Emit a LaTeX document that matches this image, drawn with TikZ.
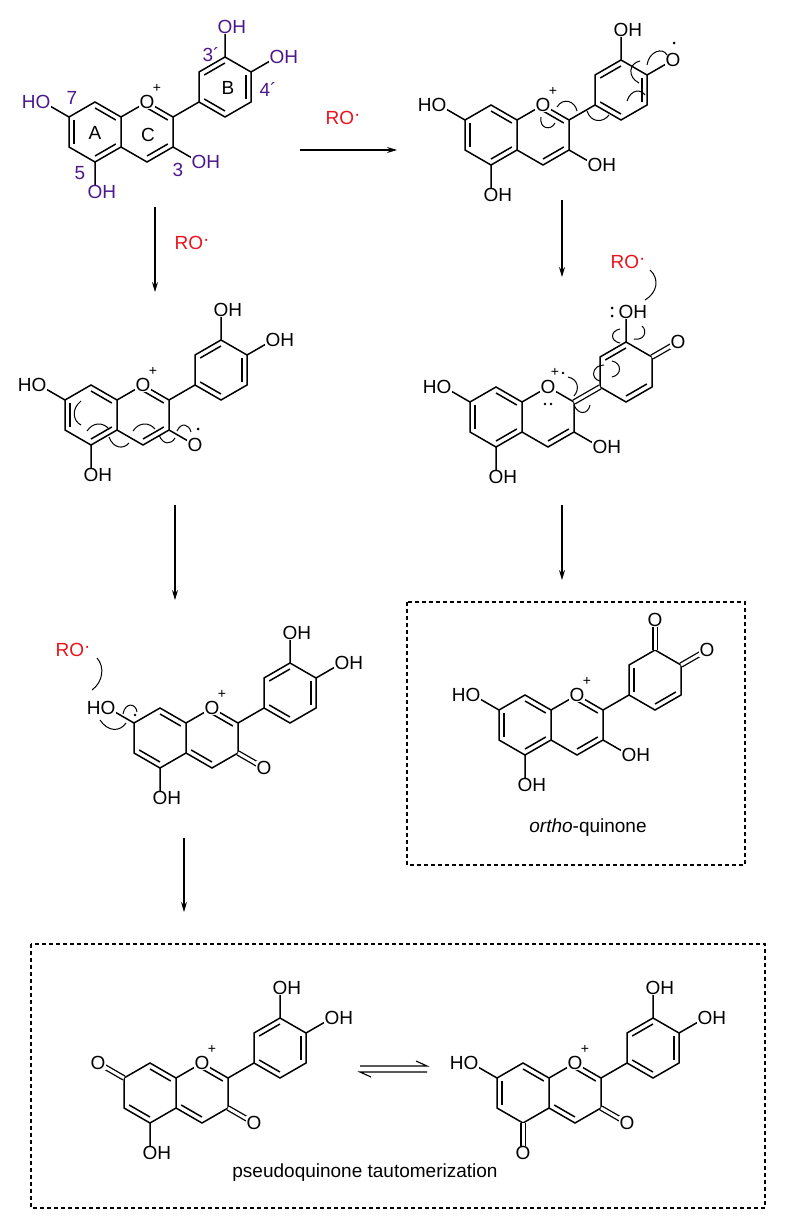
\documentclass[tikz,border=0pt]{standalone}
\usepackage{fontspec}
\setmainfont{Liberation Sans}
\usetikzlibrary{calc,arrows.meta}
\definecolor{purp}{RGB}{75,25,140}
\definecolor{rored}{RGB}{235,20,30}
\newcommand\af{\fontsize{19}{21}\selectfont}
\newcommand\pf{\fontsize{14}{15}\selectfont}
\newcommand\mol[3]{%
\path[shift={(#2,#3)}]
 (0,0) coordinate (#1O)
 (-26,15) coordinate (#1c8a)
 (26,15) coordinate (#1c2)
 (26,45) coordinate (#1c3)
 (0,60) coordinate (#1c4)
 (-26,45) coordinate (#1c4a)
 (-52,0) coordinate (#1c8)
 (-78,15) coordinate (#1c7)
 (-78,45) coordinate (#1c6)
 (-52,60) coordinate (#1c5)
 (52,0) coordinate (#1b1)
 (52,-30) coordinate (#1b2)
 (78,-45) coordinate (#1b3)
 (104,-30) coordinate (#1b4)
 (104,0) coordinate (#1b5)
 (78,15) coordinate (#1b6)
 (-52,30) coordinate (#1cA)
 (0,30) coordinate (#1cC)
 (78,-15) coordinate (#1cB)
 (-104,0) coordinate (#1o7)
 (-52,90) coordinate (#1o5)
 (52,60) coordinate (#1o3)
 (78,-75) coordinate (#1o3p)
 (130,-45) coordinate (#1o4p);
 \draw[bond] (#1c8)--(#1c8a)--(#1c4a)--(#1c5)--(#1c6)--(#1c7)--cycle;
 \draw[bond] (#1c8a)--(#1O)--(#1c2)--(#1c3)--(#1c4)--(#1c4a);
 \draw[bond] (#1b1)--(#1b2)--(#1b3)--(#1b4)--(#1b5)--(#1b6)--cycle;
}
\newcommand\db[3]{\draw[bond] ($(#1)!0.2!(#3)$) -- ($(#2)!0.2!(#3)$);}
\newcommand\stdAC[1]{\db{#1c8}{#1c8a}{#1cA}\db{#1c7}{#1c6}{#1cA}\db{#1c5}{#1c4a}{#1cA}\db{#1O}{#1c2}{#1cC}\db{#1c3}{#1c4}{#1cC}}
\newcommand\catB[1]{\db{#1b2}{#1b3}{#1cB}\db{#1b4}{#1b5}{#1cB}\db{#1b6}{#1b1}{#1cB}}
\newcommand\OH[2][]{\node[atom,anchor=west,xshift=-8pt,#1] (#2l) at (#2) {OH};}
\newcommand\HO[2][]{\node[atom,anchor=east,xshift=8pt,#1] (#2l) at (#2) {HO};}
\newcommand\Ox[2][]{\node[atom,#1] (#2l) at (#2) {O};}
\newcommand\plus[1]{\node[font=\pf,inner sep=0pt] (#1plus) at ($(#1O)+(10,-14)$) {+};}
\newcommand\RO{RO\raisebox{4pt}{·}}
\begin{document}
\begin{tikzpicture}[x=1pt,y=-1pt,
  bond/.style={line width=1.5pt},
  dbo/.style={double,double distance=3pt,line width=1.3pt},
  atom/.style={font=\af,inner sep=0.5pt,fill=white},
  curl/.style={line width=1pt},
  arr/.style={line width=1.1pt,-{Stealth[length=10pt,width=6pt]}},
  rlab/.style={font=\af,text=rored,inner sep=0pt},
  box/.style={line width=1.1pt,dash pattern=on 4pt off 3pt}]
\path[use as bounding box,fill=white] (0,0) rectangle (792,1230);

% ---------- S1
\mol{S1}{147}{102}
\draw[bond] (S1c2)--(S1b1) (S1c7)--(S1o7) (S1c5)--(S1o5) (S1c3)--(S1o3) (S1b3)--(S1o3p) (S1b4)--(S1o4p);
\stdAC{S1}\catB{S1}
\HO[text=purp]{S1o7}\OH[text=purp]{S1o5}\OH[text=purp]{S1o3}\OH[text=purp]{S1o3p}\OH[text=purp]{S1o4p}
\Ox{S1O}\plus{S1}
\begin{scope}[shift={(S1O)},font=\af,inner sep=0pt]
\node[text=purp] (n7) at (-75,-4) {7};
\node[text=purp] (n5) at (-67,71) {5};
\node[text=purp] (n3) at (31,68) {3};
\node[text=purp] (n3p) at (64,-47) {3´};
\node[text=purp] (n4p) at (121,-12) {4´};
\node (rA) at (-52,31) {A};
\node (rC) at (1,33) {C};
\node (rB) at (81,-14) {B};
\end{scope}

% ---------- S2
\mol{S2}{543}{105}
\draw[bond] (S2c2)--(S2b1) (S2c7)--(S2o7) (S2c5)--(S2o5) (S2c3)--(S2o3) (S2b3)--(S2o3p) (S2b4)--(S2o4p);
\stdAC{S2}\catB{S2}
\HO{S2o7}\OH{S2o5}\OH{S2o3}\OH{S2o3p}\Ox{S2o4p}\Ox{S2O}\plus{S2}
\fill ($(S2o4p)+(1,-17)$) circle (1.5pt);
\begin{scope}[shift={(S2O)}]
\draw[curl] (-2,12) .. controls (-4,24) and (8,26) .. (12,18);
\draw[curl] (14,2) .. controls (20,-8) and (32,-4) .. (34,6);
\draw[curl] (44,6) .. controls (48,18) and (60,18) .. (66,10);
\draw[curl] (84,-4) .. controls (88,-16) and (98,-16) .. (102,-10);
\draw[curl] (96,-22) .. controls (84,-28) and (86,-42) .. (97,-44);
\draw[curl] (104,-40) .. controls (106,-54) and (120,-58) .. (124,-50);
\end{scope}

% ---------- S3
\mol{S3}{143}{385}
\draw[bond] (S3c2)--(S3b1) (S3c7)--(S3o7) (S3c5)--(S3o5) (S3c3)--(S3o3) (S3b3)--(S3o3p) (S3b4)--(S3o4p);
\stdAC{S3}\catB{S3}
\HO{S3o7}\OH{S3o5}\Ox{S3o3}\OH{S3o3p}\OH{S3o4p}\Ox{S3O}\plus{S3}
\fill ($(S3o3)+(3,-16)$) circle (1.5pt);
\begin{scope}[shift={(S3O)}]
\draw[curl] (-62,16) .. controls (-72,24) and (-70,36) .. (-62,40);
\draw[curl] (-56,46) .. controls (-50,37) and (-40,37) .. (-34,44);
\draw[curl] (-34,52) .. controls (-30,63) and (-20,65) .. (-14,58);
\draw[curl] (-10,46) .. controls (-4,37) and (6,37) .. (12,44);
\draw[curl] (16,50) .. controls (20,60) and (28,60) .. (32,53);
\draw[curl] (34,46) .. controls (38,37) and (46,39) .. (48,47);
\end{scope}

% ---------- S4
\mol{S4}{548}{387}
\draw[bond] (S4c7)--(S4o7) (S4c5)--(S4o5) (S4c3)--(S4o3) (S4b3)--(S4o3p);
\draw[dbo] (S4c2)--(S4b1);
\draw[dbo] (S4b4)--(S4o4p);
\db{S4c8}{S4c8a}{S4cA}\db{S4c7}{S4c6}{S4cA}\db{S4c5}{S4c4a}{S4cA}\db{S4c3}{S4c4}{S4cC}
\db{S4b2}{S4b3}{S4cB}\db{S4b5}{S4b6}{S4cB}
\HO{S4o7}\OH{S4o5}\OH{S4o3}\OH{S4o3p}\Ox{S4o4p}\Ox{S4O}
\node[font=\pf,inner sep=0pt] (S4plus) at ($(S4O)+(7,-15)$) {+};
\fill ($(S4O)+(15,-14)$) circle (1.4pt);
\fill ($(S4O)+(-3,17)$) circle (1.4pt);
\fill ($(S4O)+(3,17)$) circle (1.4pt);
\fill ($(S4o3p)+(-14,-4)$) circle (1.5pt);
\fill ($(S4o3p)+(-14,4)$) circle (1.5pt);
\begin{scope}[shift={(S4O)}]
\draw[curl] (72,-58) .. controls (62,-56) and (62,-46) .. (72,-44);
\draw[curl] (86,-48) .. controls (96,-46) and (100,-56) .. (94,-61);
\draw[curl] (56,-22) .. controls (44,-22) and (42,-8) .. (52,-6);
\draw[curl] (64,-26) .. controls (74,-24) and (74,-12) .. (64,-10);
\draw[curl] (26,18) .. controls (30,28) and (40,28) .. (42,18);
\draw[curl] (20,-10) .. controls (30,-8) and (32,2) .. (26,9);
\end{scope}
\node[rlab] (ro4) at (628,262) {\RO};
\coordinate (ro4a) at (650,270);
\coordinate (ro4b) at (645,300);
\draw[curl] (ro4a) .. controls (660,279) and (657,293) .. (ro4b);

% ---------- S5
\mol{S5}{577}{695}
\draw[bond] (S5c2)--(S5b1) (S5c7)--(S5o7) (S5c5)--(S5o5) (S5c3)--(S5o3);
\draw[dbo] (S5b3)--(S5o3p);
\draw[dbo] (S5b4)--(S5o4p);
\stdAC{S5}
\db{S5b1}{S5b2}{S5cB}\db{S5b5}{S5b6}{S5cB}
\HO{S5o7}\OH{S5o5}\OH{S5o3}\Ox{S5o3p}\Ox{S5o4p}\Ox{S5O}\plus{S5}
\draw[box] (407,602) rectangle (745,865);
\node[font=\af] (oq) at (588,828) {\textit{ortho}-quinone};

% ---------- S6
\mol{S6}{212}{708}
\draw[bond] (S6c2)--(S6b1) (S6c7)--(S6o7) (S6c5)--(S6o5) (S6b3)--(S6o3p) (S6b4)--(S6o4p);
\draw[dbo] (S6c3)--(S6o3);
\db{S6c8}{S6c8a}{S6cA}\db{S6c6}{S6c5}{S6cA}\db{S6O}{S6c2}{S6cC}\db{S6c4}{S6c4a}{S6cC}
\catB{S6}
\HO{S6o7}\OH{S6o5}\Ox{S6o3}\OH{S6o3p}\OH{S6o4p}\Ox{S6O}\plus{S6}
\fill ($(S6c7)+(1,-8)$) circle (1.4pt);
\begin{scope}[shift={(S6O)}]
\draw[curl] (-89,6) .. controls (-87,-6) and (-76,-5) .. (-75,4);
\draw[curl] (-112,12) .. controls (-104,24) and (-92,24) .. (-86,15);
\end{scope}
\node[rlab] (ro6) at (73,650) {\RO};
\coordinate (ro6a) at (97,658);
\coordinate (ro6b) at (92,690);
\draw[curl] (ro6a) .. controls (105,667) and (103,682) .. (ro6b);

% ---------- S7
\mol{S7}{202}{1063}
\draw[bond] (S7c2)--(S7b1) (S7c5)--(S7o5) (S7b3)--(S7o3p) (S7b4)--(S7o4p);
\draw[dbo] (S7c7)--(S7o7);
\draw[dbo] (S7c3)--(S7o3);
\db{S7c8}{S7c8a}{S7cA}\db{S7c6}{S7c5}{S7cA}\db{S7O}{S7c2}{S7cC}\db{S7c4}{S7c4a}{S7cC}
\catB{S7}
\Ox{S7o7}\OH{S7o5}\Ox{S7o3}\OH{S7o3p}\OH{S7o4p}\Ox{S7O}\plus{S7}

% ---------- S8
\mol{S8}{575}{1063}
\draw[bond] (S8c2)--(S8b1) (S8c7)--(S8o7) (S8b3)--(S8o3p) (S8b4)--(S8o4p);
\draw[dbo] (S8c5)--(S8o5);
\draw[dbo] (S8c3)--(S8o3);
\db{S8c8}{S8c8a}{S8cA}\db{S8c7}{S8c6}{S8cA}\db{S8O}{S8c2}{S8cC}\db{S8c4}{S8c4a}{S8cC}
\catB{S8}
\HO{S8o7}\Ox{S8o5}\Ox{S8o3}\OH{S8o3p}\OH{S8o4p}\Ox{S8O}\plus{S8}

\draw[box] (31,944) rectangle (765,1208);
\node[font=\af] (pq) at (365,1173) {pseudoquinone tautomerization};

% ---------- arrows
\coordinate (h1) at (300,150); \coordinate (h2) at (397,150);
\draw[arr] (h1) -- (h2);
\node[rlab] (roh) at (343,118) {\RO};
\coordinate (v1a) at (155,207); \coordinate (v1b) at (155,292);
\draw[arr] (v1a) -- (v1b);
\node[rlab] (rov) at (192,243) {\RO};
\coordinate (v2a) at (562,200); \coordinate (v2b) at (562,277);
\draw[arr] (v2a) -- (v2b);
\coordinate (v3a) at (562,505); \coordinate (v3b) at (562,580);
\draw[arr] (v3a) -- (v3b);
\coordinate (v4a) at (175,505); \coordinate (v4b) at (175,600);
\draw[arr] (v4a) -- (v4b);
\coordinate (v5a) at (184,838); \coordinate (v5b) at (184,912);
\draw[arr] (v5a) -- (v5b);
\coordinate (e1) at (360,1066); \coordinate (e2) at (427,1066);
\coordinate (e3) at (360,1072); \coordinate (e4) at (427,1072);
\draw[line width=1.1pt] (e1) -- (e2) -- ++(-11,-5);
\draw[line width=1.1pt] (e4) -- (e3) -- ++(11,5);
\end{tikzpicture}
\end{document}
